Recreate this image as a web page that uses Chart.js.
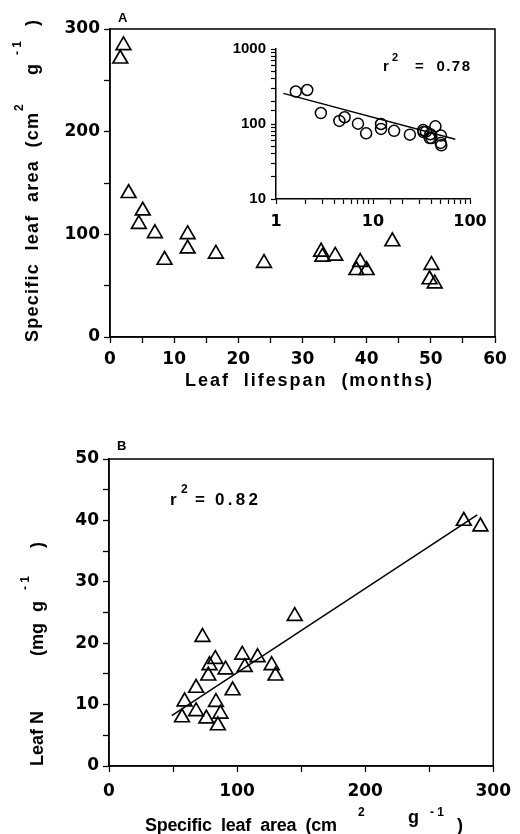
<!DOCTYPE html>
<html><head><meta charset="utf-8">
<script src="https://cdn.jsdelivr.net/npm/chart.js@4.4.0/dist/chart.umd.min.js"></script>
<style>
html,body{margin:0;padding:0;background:#fff;}
body{width:520px;height:834px;position:relative;overflow:hidden;}
canvas{position:absolute;display:block;}
</style></head><body>
<canvas id="ca" width="520" height="400" style="left:0;top:0"></canvas>
<canvas id="cb" width="520" height="434" style="left:0;top:400px"></canvas>
<canvas id="ci" width="270" height="199" style="left:230px;top:30px"></canvas>
<script>
// ---- Panel A: leaf lifespan (months) vs specific leaf area (cm2 g-1)
const leafLifespan = [1.6, 2.1, 2.9, 4.5, 5.1, 7.0, 8.5, 12.1, 12.1, 16.5, 24.0, 32.9, 33.1, 35.1, 38.4, 39.0, 40.0, 44.0, 49.8, 50.1, 50.6];
const slaA         = [271, 284, 140, 110, 123, 101, 75, 100, 86, 81, 72, 83, 78, 79, 65, 73, 65, 93, 56, 70, 52];
// inset log-log regression line end points
const insetFitLifespan = [1.19, 70.5];
const insetFitSLA      = [256, 62.5];
// ---- Panel B: specific leaf area vs leaf N (mg g-1)
const slaB  = [145, 73, 83, 78.5, 91, 104, 106, 116, 127, 130, 77.5, 96.5, 68, 59, 83.5, 68, 57, 76, 87, 85, 277, 290];
const leafN = [24.4, 21.0, 17.4, 16.4, 15.7, 18.1, 16.1, 17.7, 16.4, 14.7, 14.7, 12.3, 12.7, 10.5, 10.4, 8.9, 7.9, 7.7, 8.5, 6.6, 39.9, 39.0];
const fitSLA = [49, 287.5];
const fitN   = [8.2, 40.9];
// ---- tick labels
const aXTicks = [0, 10, 20, 30, 40, 50, 60];
const aYTicks = [0, 100, 200, 300];
const insetXTicks = [1, 10, 100];
const insetYTicks = [10, 100, 1000];
const bXTicks = [0, 100, 200, 300];
const bYTicks = [0, 10, 20, 30, 40, 50];
// ---- texts
const aXTitle = 'Leaf  lifespan  (months)';
const slaTitle = 'Specific  leaf  area  (cm';
const r2A = '=  0.78';
const r2B = '0.82';

const pts = (xs, ys) => xs.map((x, i) => ({x: x, y: ys[i]}));
const pick = list => v => list.some(t => Math.abs(t - v) < 1e-6) ? String(v) : '';
const F = (w, s, fam) => `${w} ${s}px ${fam || '"Liberation Sans", Arial, sans-serif'}`;
const DJ = '"DejaVu Sans", sans-serif';

const textPlugin = {
  id: 'texts',
  afterDraw(chart) {
    const o = chart.options.plugins.texts || {};
    const ctx = chart.ctx;
    if (o.box) {
      const a = chart.chartArea;
      ctx.save(); ctx.strokeStyle = '#000'; ctx.lineWidth = 1.5;
      ctx.strokeRect(a.left, a.top, a.right - a.left, a.bottom - a.top);
      ctx.restore();
    }
    (o.items || []).forEach(p => {
      ctx.save();
      ctx.fillStyle = '#000';
      ctx.font = p.font || F('bold', 18);
      ctx.textAlign = 'left';
      ctx.textBaseline = 'alphabetic';
      if ('letterSpacing' in ctx) ctx.letterSpacing = '0px';
      if (p.w && 'letterSpacing' in ctx && p.t.length > 1) {
        const m = ctx.measureText(p.t).width;
        ctx.letterSpacing = ((p.w - m) / (p.t.length - 1)).toFixed(2) + 'px';
      }
      ctx.translate(p.x - o.ox, p.y - o.oy);
      if (p.rot) ctx.rotate(-Math.PI / 2);
      ctx.fillText(p.t, 0, 0);
      if ('letterSpacing' in ctx) ctx.letterSpacing = '0px';
      ctx.restore();
    });
  }
};

function axis(opts) {
  return Object.assign({
    type: 'linear',
    grid: {display: true, drawOnChartArea: false, drawTicks: true, tickLength: 6, tickColor: '#000', tickWidth: 1.3},
    border: {display: true, color: '#000', width: 1.5},
  }, opts);
}
const tickFont = {family: DJ, size: 17, weight: 'bold'};
const baseOpts = {responsive: false, animation: false, events: []};
const noLegend = {legend: {display: false}, tooltip: {enabled: false}};

const triStyle = {pointStyle: 'triangle', radius: 8.5, borderWidth: 1.7, borderColor: '#000', backgroundColor: 'rgba(255,255,255,0)'};

// Panel A
new Chart(document.getElementById('ca'), {
  type: 'scatter',
  data: {datasets: [Object.assign({data: pts(leafLifespan, slaA)}, triStyle)]},
  options: Object.assign({}, baseOpts, {
    layout: {padding: {left: 0, top: 29, right: 25, bottom: 0}},
    scales: {
      x: axis({min: 0, max: 60, position: 'bottom',
        ticks: {stepSize: 5, autoSkip: false, maxRotation: 0, color: '#000', font: tickFont, padding: 6, callback: pick(aXTicks)},
        afterFit: s => { s.height = 63; }}),
      y: axis({min: 0, max: 300,
        ticks: {stepSize: 50, autoSkip: false, color: '#000', font: tickFont, padding: 4, callback: pick(aYTicks)},
        afterFit: s => { s.width = 110; }})
    },
    plugins: Object.assign({}, noLegend, {texts: {box: true, ox: 0, oy: 0, items: [
      {t: 'A', x: 118, y: 22, font: F('bold', 13)},
      {t: aXTitle, x: 185, y: 386, w: 247},
      {t: slaTitle, x: 38, y: 342, rot: true, w: 229},
      {t: '2', x: 23, y: 111, rot: true, font: F('bold', 12)},
      {t: 'g', x: 38, y: 75, rot: true},
      {t: '- 1', x: 21, y: 55, rot: true, font: F('bold', 12)},
      {t: ')', x: 38, y: 26, rot: true}
    ]}})
  }),
  plugins: [textPlugin]
});

// Inset (log-log)
new Chart(document.getElementById('ci'), {
  type: 'scatter',
  data: {datasets: [
    {data: pts(leafLifespan, slaA), pointStyle: 'circle', radius: 5.5, borderWidth: 1.5, borderColor: '#000', backgroundColor: 'rgba(255,255,255,0)'},
    {data: pts(insetFitLifespan, insetFitSLA), showLine: true, pointRadius: 0, borderColor: '#000', borderWidth: 1.5}
  ]},
  options: Object.assign({}, baseOpts, {
    layout: {padding: {left: 0, top: 19, right: 30, bottom: 0}},
    scales: {
      x: axis({type: 'logarithmic', min: 1, max: 100, position: 'bottom',
        grid: {display: true, drawOnChartArea: false, drawTicks: true, tickLength: 5, tickColor: '#000', tickWidth: 1.2},
        ticks: {autoSkip: false, maxRotation: 0, color: '#000', font: {family: DJ, size: 16, weight: 'bold'}, padding: 8, callback: pick(insetXTicks)},
        afterFit: s => { s.height = 30; }}),
      y: axis({type: 'logarithmic', min: 10, max: 1000,
        grid: {display: true, drawOnChartArea: false, drawTicks: true, tickLength: 5, tickColor: '#000', tickWidth: 1.2},
        ticks: {autoSkip: false, color: '#000', font: {family: '"Liberation Sans", Arial, sans-serif', size: 15, weight: 'bold'}, padding: 5, callback: pick(insetYTicks)},
        afterFit: s => { s.width = 46; }})
    },
    plugins: Object.assign({}, noLegend, {texts: {box: false, ox: 230, oy: 30, items: [
      {t: 'r', x: 383, y: 71, font: F('bold', 15)},
      {t: '2', x: 392, y: 61, font: F('bold', 11)},
      {t: r2A, x: 415, y: 71, font: F('bold', 15), w: 55}
    ]}})
  }),
  plugins: [textPlugin]
});

// Panel B
new Chart(document.getElementById('cb'), {
  type: 'scatter',
  data: {datasets: [
    Object.assign({data: pts(slaB, leafN)}, triStyle),
    {data: pts(fitSLA, fitN), showLine: true, pointRadius: 0, borderColor: '#000', borderWidth: 1.5}
  ]},
  options: Object.assign({}, baseOpts, {
    layout: {padding: {left: 0, top: 59, right: 23, bottom: 0}},
    scales: {
      x: axis({min: 0, max: 300, position: 'bottom',
        ticks: {stepSize: 50, autoSkip: false, maxRotation: 0, color: '#000', font: tickFont, padding: 9, callback: pick(bXTicks)},
        afterFit: s => { s.height = 68; }}),
      y: axis({min: 0, max: 50,
        ticks: {stepSize: 5, autoSkip: false, color: '#000', font: tickFont, padding: 4, callback: pick(bYTicks)},
        afterFit: s => { s.width = 109; }})
    },
    plugins: Object.assign({}, noLegend, {texts: {box: true, ox: 0, oy: 400, items: [
      {t: 'B', x: 117, y: 450, font: F('bold', 13)},
      {t: 'r', x: 170, y: 505, font: F('bold', 17)},
      {t: '2', x: 181, y: 493, font: F('bold', 12)},
      {t: '=', x: 195, y: 505, font: F('bold', 17)},
      {t: r2B, x: 215, y: 505, font: F('bold', 17), w: 43},
      {t: 'Leaf N', x: 43, y: 766, rot: true},
      {t: '(mg', x: 43, y: 656, rot: true},
      {t: 'g', x: 43, y: 612, rot: true},
      {t: '- 1', x: 29, y: 590, rot: true, font: F('bold', 12)},
      {t: ')', x: 43, y: 548, rot: true},
      {t: slaTitle, x: 145, y: 831, w: 192},
      {t: '2', x: 358, y: 816, font: F('bold', 12)},
      {t: 'g', x: 408, y: 823},
      {t: '- 1', x: 430, y: 816, font: F('bold', 12)},
      {t: ')', x: 457, y: 831}
    ]}})
  }),
  plugins: [textPlugin]
});
</script>
</body></html>
